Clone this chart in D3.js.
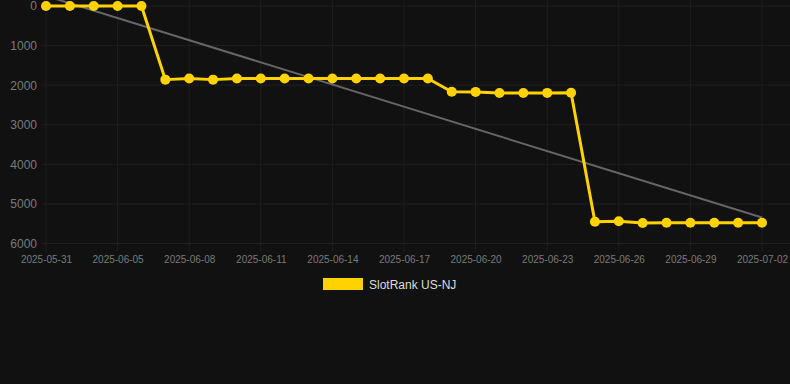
<!DOCTYPE html>
<html><head><meta charset="utf-8">
<script src="https://cdn.jsdelivr.net/npm/d3@7"></script>
<style>html,body{margin:0;padding:0;background:#111111;}svg{display:block;}</style>
</head><body>
<script>
const dates = ["2025-05-31","2025-06-03","2025-06-04","2025-06-05","2025-06-06","2025-06-07","2025-06-08","2025-06-09","2025-06-10","2025-06-11","2025-06-12","2025-06-13","2025-06-14","2025-06-15","2025-06-16","2025-06-17","2025-06-18","2025-06-19","2025-06-20","2025-06-21","2025-06-22","2025-06-23","2025-06-24","2025-06-25","2025-06-26","2025-06-27","2025-06-28","2025-06-29","2025-06-30","2025-07-01","2025-07-02"];
const rankNJ = [0,0,0,0,0,1860,1830,1860,1830,1830,1830,1830,1830,1830,1830,1830,1830,2165,2170,2200,2200,2195,2190,5450,5440,5480,5475,5475,5475,5475,5475];
const yTicks = [0,1000,2000,3000,4000,5000,6000];
const seriesName = "SlotRank US-NJ";

const W = 790, H = 384;
const svg = d3.select("body").append("svg").attr("width", W).attr("height", H);
svg.append("rect").attr("width", W).attr("height", H).attr("fill", "#111111");

const x = d3.scalePoint().domain(dates).range([46, 762]);
const y = d3.scaleLinear().domain([0, 6000]).range([6, 243.5]);

const tickDates = dates.filter((d, i) => i % 3 === 0);

// grid
const g = svg.append("g");
g.selectAll("line.v").data(tickDates).enter().append("line")
  .attr("x1", d => x(d)).attr("x2", d => x(d)).attr("y1", 0).attr("y2", 251)
  .attr("stroke", "#1f1f1f").attr("stroke-width", 1);
g.selectAll("line.h").data(yTicks).enter().append("line")
  .attr("x1", 42).attr("x2", W).attr("y1", d => y(d)).attr("y2", d => y(d))
  .attr("stroke", "#1f1f1f").attr("stroke-width", 1);

// y axis labels
const yAxis = d3.axisLeft(y).tickValues(yTicks).tickSize(0).tickPadding(0).tickFormat(d3.format("d"));
const ya = svg.append("g").attr("transform", "translate(37,0)").call(yAxis);
ya.select(".domain").remove();
ya.selectAll("text").attr("fill", "#7a7a7a").style("font-family", "Liberation Sans, Arial, sans-serif").style("font-size", "12px");

// x axis labels
const xAxis = d3.axisBottom(x).tickValues(tickDates).tickSize(0).tickPadding(0);
const xa = svg.append("g").attr("transform", "translate(0,255.5)").call(xAxis);
xa.select(".domain").remove();
xa.selectAll("text").attr("fill", "#7a7a7a").attr("dy", "0.71em").style("font-family", "Liberation Sans, Arial, sans-serif").style("font-size", "10px");

// trend line (least squares over the series)
const n = rankNJ.length;
const mx = d3.mean(rankNJ, (v, i) => i), my = d3.mean(rankNJ);
const sxy = d3.sum(rankNJ, (v, i) => (i - mx) * (v - my));
const sxx = d3.sum(rankNJ, (v, i) => (i - mx) * (i - mx));
const slope = sxy / sxx, icpt = my - slope * mx;
svg.append("line")
  .attr("x1", x(dates[0])).attr("y1", y(icpt))
  .attr("x2", x(dates[n - 1])).attr("y2", y(icpt + slope * (n - 1)))
  .attr("stroke", "#666666").attr("stroke-width", 2);

// series line
const yellow = "#ffd200";
const line = d3.line().x((v, i) => x(dates[i])).y(v => y(v));
svg.append("path").datum(rankNJ).attr("d", line)
  .attr("fill", "none").attr("stroke", yellow).attr("stroke-width", 3).attr("stroke-linejoin", "round");
svg.selectAll("circle.p").data(rankNJ).enter().append("circle")
  .attr("cx", (v, i) => x(dates[i])).attr("cy", v => y(v)).attr("r", 5)
  .attr("fill", yellow);

// legend
svg.append("rect").attr("x", 323).attr("y", 278).attr("width", 40).attr("height", 12).attr("fill", yellow);
svg.append("text").attr("x", 369).attr("y", 289).text(seriesName)
  .attr("fill", "#dddddd").style("font-family", "Liberation Sans, Arial, sans-serif").style("font-size", "12px");
</script>
</body></html>
